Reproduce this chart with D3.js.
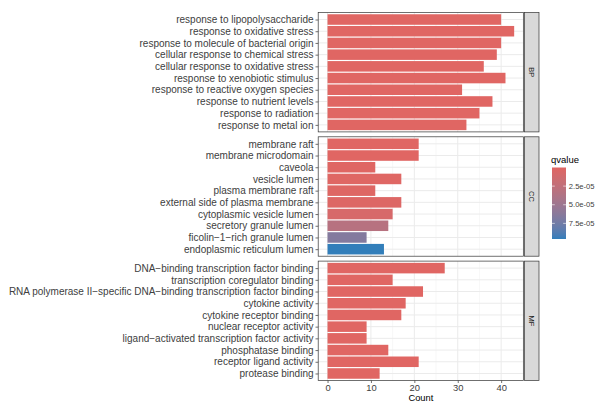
<!DOCTYPE html>
<html>
<head>
<meta charset="utf-8">
<script src="https://cdn.jsdelivr.net/npm/d3@7"></script>
<style>
  html, body { margin: 0; padding: 0; background: #ffffff; }
  svg { display: block; font-family: "Liberation Sans", Arial, sans-serif; }
</style>
</head>
<body>
<svg id="chart" width="595" height="403"></svg>
<script>
// ---------------- data ----------------
const ontologies = ["BP", "CC", "MF"];

const bpTerms = [
  "response to lipopolysaccharide",
  "response to oxidative stress",
  "response to molecule of bacterial origin",
  "cellular response to chemical stress",
  "cellular response to oxidative stress",
  "response to xenobiotic stimulus",
  "response to reactive oxygen species",
  "response to nutrient levels",
  "response to radiation",
  "response to metal ion"
];
const bpCounts = [40, 43, 40, 39, 36, 41, 31, 38, 35, 32];
const bpQvalues = [1e-20, 1e-19, 2e-19, 5e-18, 1e-16, 3e-16, 2e-12, 5e-12, 1e-11, 3e-11];

const ccTerms = [
  "membrane raft",
  "membrane microdomain",
  "caveola",
  "vesicle lumen",
  "plasma membrane raft",
  "external side of plasma membrane",
  "cytoplasmic vesicle lumen",
  "secretory granule lumen",
  "ficolin\u22121\u2212rich granule lumen",
  "endoplasmic reticulum lumen"
];
const ccCounts = [21, 21, 11, 17, 11, 17, 15, 14, 9, 13];
const ccQvalues = [4e-8, 4e-8, 5e-7, 1.2e-6, 1.5e-6, 2.5e-6, 7.5e-6, 3.2e-5, 6.5e-5, 9.6e-5];

const mfTerms = [
  "DNA\u2212binding transcription factor binding",
  "transcription coregulator binding",
  "RNA polymerase II\u2212specific DNA\u2212binding transcription factor binding",
  "cytokine activity",
  "cytokine receptor binding",
  "nuclear receptor activity",
  "ligand\u2212activated transcription factor activity",
  "phosphatase binding",
  "receptor ligand activity",
  "protease binding"
];
const mfCounts = [27, 15, 22, 18, 17, 9, 9, 14, 21, 12];
const mfQvalues = [1e-8, 2e-8, 3e-8, 5e-8, 8e-8, 1e-7, 1.2e-7, 2e-7, 3e-7, 4e-7];

const xTicks = [0, 10, 20, 30, 40];
const xMinorTicks = [5, 15, 25, 35, 45];
const legendTicks = [2.5e-5, 5.0e-5, 7.5e-5];
const legendTickLabels = ["2.5e-05", "5.0e-05", "7.5e-05"];
const lowColor = "#e06663";
const highColor = "#327eba";

// -------------- build panels --------------
const panels = [
  { name: ontologies[0], terms: bpTerms, counts: bpCounts, q: bpQvalues },
  { name: ontologies[1], terms: ccTerms, counts: ccCounts, q: ccQvalues },
  { name: ontologies[2], terms: mfTerms, counts: mfCounts, q: mfQvalues }
];

const svg = d3.select("#chart");

const panelLeft = 318.2, panelRight = 523.5;
const panelTops = [12.5, 136.8, 261.1];
const panelH = 119.4;
const stripW = 14.5;

const allCounts = bpCounts.concat(ccCounts, mfCounts);
const allQ = bpQvalues.concat(ccQvalues, mfQvalues);
const maxCount = d3.max(allCounts);
const expand = maxCount * 0.05;

const x = d3.scaleLinear()
  .domain([0 - expand, maxCount + expand])
  .range([panelLeft, panelRight]);

const qExtent = d3.extent(allQ);
const color = d3.scaleLinear()
  .domain(qExtent)
  .range([lowColor, highColor])
  .interpolate(d3.interpolateLab);

const textGrey = "#404040";
const borderGrey = "#333333";
const gridMajor = "#ebebeb";
const gridMinor = "#f4f4f4";
const labelFont = "10px";

panels.forEach((p, pi) => {
  const top = panelTops[pi];
  const bottom = top + panelH;
  const y = d3.scalePoint()
    .domain(p.terms)
    .range([top, bottom])
    .padding(0.6);
  const bandH = y.step() * 0.9;

  const g = svg.append("g");

  g.append("rect")
    .attr("x", panelLeft).attr("y", top)
    .attr("width", panelRight - panelLeft).attr("height", panelH)
    .attr("fill", "#ffffff");

  g.selectAll(".minor").data(xMinorTicks.filter(t => x(t) > panelLeft && x(t) < panelRight))
    .enter().append("line")
    .attr("x1", d => x(d)).attr("x2", d => x(d))
    .attr("y1", top).attr("y2", bottom)
    .attr("stroke", gridMinor).attr("stroke-width", 0.6);

  g.selectAll(".major").data(xTicks)
    .enter().append("line")
    .attr("x1", d => x(d)).attr("x2", d => x(d))
    .attr("y1", top).attr("y2", bottom)
    .attr("stroke", gridMajor).attr("stroke-width", 1);

  g.selectAll(".hgrid").data(p.terms)
    .enter().append("line")
    .attr("x1", panelLeft).attr("x2", panelRight)
    .attr("y1", d => y(d)).attr("y2", d => y(d))
    .attr("stroke", gridMajor).attr("stroke-width", 1);

  const rows = p.terms.map((t, i) => ({ term: t, count: p.counts[i], q: p.q[i] }));
  g.selectAll(".bar").data(rows)
    .enter().append("rect")
    .attr("x", x(0))
    .attr("y", d => y(d.term) - bandH / 2)
    .attr("width", d => x(d.count) - x(0))
    .attr("height", bandH)
    .attr("fill", d => color(d.q));

  g.append("rect")
    .attr("x", panelLeft).attr("y", top)
    .attr("width", panelRight - panelLeft).attr("height", panelH)
    .attr("fill", "none")
    .attr("stroke", borderGrey).attr("stroke-width", 0.7);

  const yAxis = d3.axisLeft(y).tickSize(2.7).tickPadding(2);
  const ya = svg.append("g")
    .attr("transform", `translate(${panelLeft},0)`)
    .call(yAxis);
  ya.select(".domain").remove();
  ya.selectAll(".tick line").attr("stroke", borderGrey).attr("stroke-width", 0.7);
  ya.selectAll(".tick text")
    .attr("fill", textGrey)
    .style("font-size", labelFont)
    .style("font-family", "'Liberation Sans', Arial, sans-serif");

  const sx = panelRight + 1;
  svg.append("rect")
    .attr("x", sx).attr("y", top)
    .attr("width", stripW).attr("height", panelH)
    .attr("fill", "#d9d9d9")
    .attr("stroke", borderGrey).attr("stroke-width", 0.7);
  svg.append("text")
    .attr("transform", `translate(${sx + stripW / 2},${top + panelH / 2}) rotate(90)`)
    .attr("text-anchor", "middle")
    .attr("dy", "0.35em")
    .attr("fill", "#1a1a1a")
    .style("font-size", "7.5px")
    .text(p.name);

  if (pi === panels.length - 1) {
    const xAxis = d3.axisBottom(x).tickValues(xTicks).tickSize(2.5).tickPadding(1).tickFormat(d3.format("d"));
    const xa = svg.append("g")
      .attr("transform", `translate(0,${bottom})`)
      .call(xAxis);
    xa.select(".domain").remove();
    xa.selectAll(".tick line").attr("stroke", borderGrey).attr("stroke-width", 0.7);
    xa.selectAll(".tick text")
      .attr("fill", textGrey)
      .style("font-size", "9.4px")
      .style("font-family", "'Liberation Sans', Arial, sans-serif");

    svg.append("text")
      .attr("x", (panelLeft + panelRight) / 2)
      .attr("y", 401)
      .attr("text-anchor", "middle")
      .attr("fill", "#000000")
      .style("font-size", "9.3px")
      .text("Count");
  }
});

// ---------------- legend ----------------
const legX = 552, legTop = 167.5, legBottom = 239, legW = 14;
const legScale = d3.scaleLinear().domain(qExtent).range([legTop, legBottom]);

const defs = svg.append("defs");
const grad = defs.append("linearGradient")
  .attr("id", "qgrad")
  .attr("x1", 0).attr("y1", 0).attr("x2", 0).attr("y2", 1);
d3.range(0, 21).forEach(i => {
  const t = i / 20;
  grad.append("stop")
    .attr("offset", t)
    .attr("stop-color", color(qExtent[0] + t * (qExtent[1] - qExtent[0])));
});

svg.append("text")
  .attr("x", 551)
  .attr("y", 162.5)
  .attr("fill", "#000000")
  .style("font-size", "9.5px")
  .text("qvalue");

svg.append("rect")
  .attr("x", legX).attr("y", legTop)
  .attr("width", legW).attr("height", legBottom - legTop)
  .attr("fill", "url(#qgrad)");

const lt = svg.append("g");
legendTicks.forEach((v, i) => {
  const yy = legScale(v);
  lt.append("line")
    .attr("x1", legX).attr("x2", legX + 2.8)
    .attr("y1", yy).attr("y2", yy)
    .attr("stroke", "#ffffff").attr("stroke-width", 0.6);
  lt.append("line")
    .attr("x1", legX + legW - 2.8).attr("x2", legX + legW)
    .attr("y1", yy).attr("y2", yy)
    .attr("stroke", "#ffffff").attr("stroke-width", 0.6);
  lt.append("text")
    .attr("x", 568.8)
    .attr("y", yy)
    .attr("dy", "0.35em")
    .attr("fill", textGrey)
    .style("font-size", "7.6px")
    .text(legendTickLabels[i]);
});
</script>
</body>
</html>
